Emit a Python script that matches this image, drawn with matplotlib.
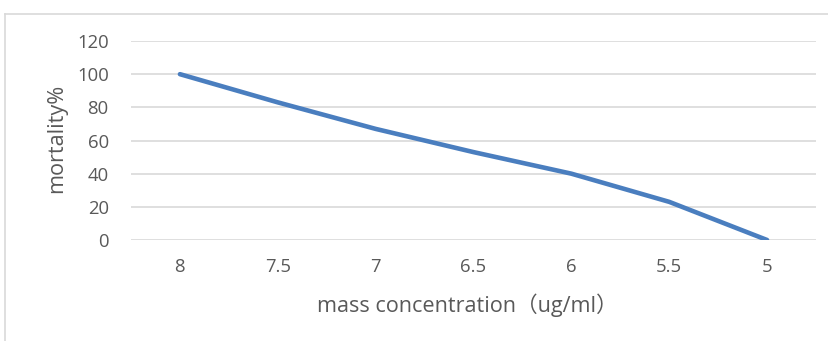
import matplotlib
matplotlib.use('Agg')
import matplotlib.pyplot as plt
from matplotlib.lines import Line2D

# mortality vs mass concentration
concentration = ['8', '7.5', '7', '6.5', '6', '5.5', '5']
mortality = [100, 83, 67, 53, 40, 23, 0]
yticks = [0, 20, 40, 60, 80, 100, 120]

plt.rcParams['font.family'] = ['Open Sans', 'Noto Sans CJK SC', 'DejaVu Sans']

W, H = 829, 341
fig = plt.figure(figsize=(W / 100, H / 100), dpi=100)
ax = fig.add_axes([131/W, 1 - 240/H, (816 - 131)/W, (240 - 41)/H])

xs = list(range(len(concentration)))
ax.plot(xs, mortality, color='#4A7EBF', linewidth=3.3, solid_capstyle='round',
        solid_joinstyle='round', zorder=3)

ax.set_xlim(-0.5, len(concentration) - 0.5)
ax.set_ylim(0, 120)
ax.set_yticks(yticks)
ax.set_xticks(xs)
ax.set_xticklabels(concentration)
for y in yticks:
    ax.axhline(y, color='#D9D9D9', linewidth=1.2, zorder=1)

for s in ax.spines.values():
    s.set_visible(False)
ax.tick_params(length=0, labelsize=13.3, labelcolor='#595959')
ax.tick_params(axis='y', pad=16)
ax.tick_params(axis='x', pad=13)

# axis titles
fig.text(57/W, 1 - 138/H, 'mortality%', rotation=90, fontsize=15.6,
         color='#595959', ha='center', va='center')
fig.text(467/W, 1 - 305/H, 'mass concentration（ug/ml）', fontsize=15.6,
         color='#595959', ha='center', va='center')

# outer chart frame
fig.add_artist(Line2D([5/W, 1], [1 - 13.5/H, 1 - 13.5/H], color='#D9D9D9', linewidth=1.2))
fig.add_artist(Line2D([5.5/W, 5.5/W], [0, 1 - 13.5/H], color='#D9D9D9', linewidth=1.2))

fig.savefig('out.png', dpi=100)
